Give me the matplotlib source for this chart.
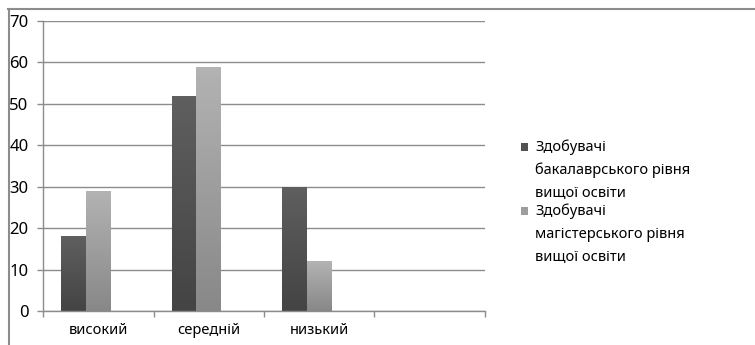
import numpy as np
import matplotlib.pyplot as plt
from matplotlib.colors import LinearSegmentedColormap
from matplotlib.patches import Rectangle
from matplotlib.lines import Line2D

plt.rcParams['font.family'] = ['Noto Sans', 'DejaVu Sans']

categories = ["високий", "середній", "низький", ""]
bachelor = [18, 52, 30, None]
master = [29, 59, 12, None]
series_labels = [
    ["Здобувачі", "бакалаврського рівня", "вищої освіти"],
    ["Здобувачі", "магістерського рівня", "вищої освіти"],
]

# Excel-like shading: each series is a vertical gradient (light on top)
dark_cmap = LinearSegmentedColormap.from_list("dark", ["#444444", "#5f5f5f"])
light_cmap = LinearSegmentedColormap.from_list("light", ["#888888", "#b3b3b3"])
fs = 10.5

fig = plt.figure(figsize=(7.55, 3.45), dpi=100)
ax = fig.add_axes([43 / 755, 1 - 311 / 345, 442 / 755, 290 / 345])

x = np.arange(len(categories))
# three slots per category (third one empty), gap width 150%
w = 1 / 4.5
grad = np.linspace(0, 1, 64).reshape(-1, 1)


def gradient_bars(xpos, vals, cmap):
    vals = [v if v is not None else 0 for v in vals]
    bars = ax.bar(xpos, vals, width=w, color="none", edgecolor="none", zorder=2)
    for b in bars:
        if b.get_height() <= 0:
            continue
        x0, y0 = b.get_x(), b.get_y()
        im = ax.imshow(grad, cmap=cmap, origin="lower", aspect="auto",
                       extent=(x0, x0 + b.get_width(), y0, y0 + b.get_height()),
                       zorder=2)
        im.set_clip_path(b)
    return bars


gradient_bars(x - w, bachelor, dark_cmap)
gradient_bars(x, master, light_cmap)

ax.set_xlim(-0.5, len(categories) - 0.5)
ax.set_ylim(0, 70)
ax.set_yticks(range(0, 71, 10))
ax.yaxis.grid(True, color="#8c8c8c", linewidth=1.0)
ax.set_axisbelow(True)

ax.set_xticks(x)
ax.set_xticklabels(categories)
ax.set_xticks(np.arange(-0.5, len(categories)), minor=True)
ax.tick_params(axis="x", which="major", length=0, pad=9, labelsize=fs, colors="#000000")
ax.tick_params(axis="x", which="minor", length=4, width=1, color="#8c8c8c")
ax.tick_params(axis="y", length=4, width=1, color="#8c8c8c", pad=6.5, labelsize=12)

for side in ("top", "right"):
    ax.spines[side].set_visible(False)
for side in ("left", "bottom"):
    ax.spines[side].set_color("#8c8c8c")
    ax.spines[side].set_linewidth(1.0)

# legend drawn by hand so the swatch sits on the first text line
line_h = 23 / 345
entry_top = [1 - 147 / 345, 1 - 211 / 345]
for cmap, lines, ytop in zip([dark_cmap, light_cmap], series_labels, entry_top):
    fig.patches.append(Rectangle((521 / 755, ytop - 4 / 345), 7 / 755, 8 / 345,
                                 transform=fig.transFigure, facecolor=cmap(0.5),
                                 edgecolor="none"))
    for i, txt in enumerate(lines):
        fig.text(535 / 755, ytop - i * line_h, txt, fontsize=fs,
                 va="center", ha="left", color="#000000")

# chart frame (top and left edges)
fig.add_artist(Line2D([8 / 755, 1], [1 - 8.5 / 345] * 2, color="#8c8c8c",
                      linewidth=1.5, transform=fig.transFigure))
fig.add_artist(Line2D([8.5 / 755] * 2, [0, 1 - 8.5 / 345], color="#8c8c8c",
                      linewidth=1.5, transform=fig.transFigure))

fig.savefig("out.png", dpi=100)
